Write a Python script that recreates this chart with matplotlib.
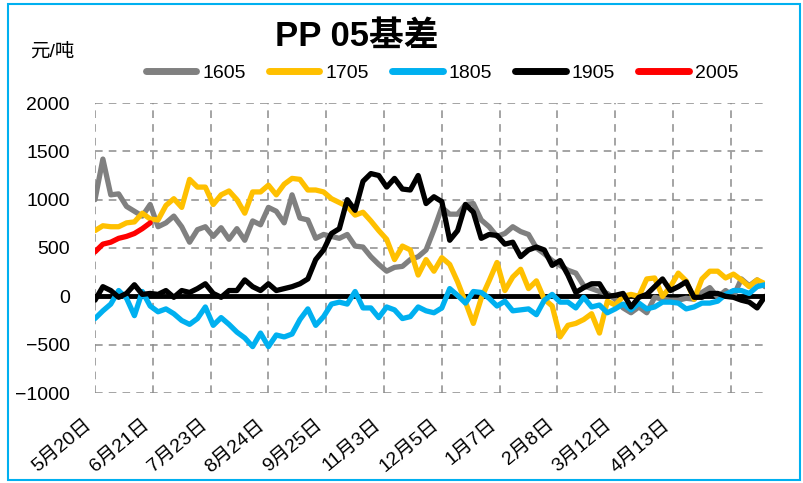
import matplotlib.pyplot as plt
import numpy as np
from matplotlib.patches import Rectangle

plt.rcParams['font.family'] = ['Liberation Sans', 'Noto Sans CJK SC']
plt.rcParams['axes.unicode_minus'] = True

# basis values, one reading every 3 trading days
s1605 = [1000, 1420, 1050, 1060, 930, 880, 830, 950, 720, 760,
         830, 720, 560, 690, 720, 620, 710, 590, 700, 580,
         780, 740, 920, 880, 760, 1050, 810, 790, 600, 640,
         620, 600, 640, 520, 510, 410, 330, 260, 300, 310,
         380, 410, 480, 690, 920, 850, 850, 950, 960, 790,
         720, 620, 650, 720, 670, 640, 500, 440, 370, 320,
         270, 240, 110, 80, 50, 30, -30, -120, -170, -110,
         -170, -10, -30, -40, -40, -20, -30, 40, 90, -10,
         60, 0, 180, 110, 170, 100]
s1705 = [680, 730, 720, 720, 760, 770, 860, 800, 790, 940,
         1010, 920, 1210, 1130, 1130, 950, 1050, 1090, 1000, 860,
         1080, 1080, 1150, 1050, 1160, 1220, 1210, 1100, 1100, 1080,
         1010, 970, 930, 840, 870, 780, 680, 590, 380, 520,
         480, 220, 380, 260, 400, 330, 150, -60, -280, -20,
         160, 350, 60, 200, 280, 80, 160, -30, -100, -420,
         -300, -280, -240, -180, -380, -50, -90, 0, 20, 0,
         180, 190, 0, 100, 240, 160, -30, 180, 260, 260,
         190, 230, 170, 100, 170, 130]
s1805 = [-230, -150, -80, 60, -20, -200, 50, -100, -160, -130,
         -180, -250, -290, -230, -110, -300, -220, -290, -370, -430,
         -520, -380, -520, -400, -420, -390, -240, -130, -300, -210,
         -80, -60, -80, 50, -120, -120, -220, -110, -140, -230,
         -210, -110, -150, -170, -120, 80, 10, -70, 50, 40,
         -20, -100, -50, -150, -140, -130, -190, -40, 20, -60,
         -60, -120, -10, -110, -90, -170, -130, -80, -140, -70,
         -130, -110, -60, -60, -70, -130, -110, -70, -70, -50,
         20, 60, 60, 30, 100, 120]
s1905 = [-40, 100, 60, -10, 30, 120, 20, 30, 20, 60,
         -10, 60, 40, 80, 130, 30, -10, 60, 60, 170,
         100, 60, 130, 60, 80, 100, 130, 180, 380, 480,
         650, 700, 1000, 890, 1190, 1270, 1250, 1130, 1220, 1110,
         1100, 1250, 960, 1030, 980, 580, 680, 950, 870, 600,
         640, 630, 540, 560, 410, 480, 510, 480, 320, 370,
         220, 40, 90, 130, 130, 0, 10, 30, -110, -10,
         20, 100, 180, 60, 100, 150, -10, -10, 30, 30,
         0, -10, -40, -60, -120, 0]
s2005 = [460, 540, 560, 600, 620, 650, 700, 760]

names = ['1605', '1705', '1805', '1905', '2005']
colors = ['#808080', '#FFC000', '#00B0F0', '#000000', '#FF0000']
tick_labels = ['5月20日', '6月21日', '7月23日', '8月24日', '9月25日', '11月3日',
               '12月5日', '1月7日', '2月8日', '3月12日', '4月13日', '']
step = 3
tick_gap = 22

fig = plt.figure(figsize=(8.04, 4.83), dpi=100)
ax = fig.add_axes([95 / 804, 90 / 483, 670 / 804, 290 / 483])

ax.axhline(0, color='black', lw=3.5, zorder=1)
for vals, name, c in zip([s1605, s1705, s1805, s1905, s2005], names, colors):
    x = np.arange(len(vals)) * step
    ax.plot(x, vals, color=c, lw=3.8, label=name, solid_capstyle='round',
            solid_joinstyle='round', zorder=2)

ax.set_xlim(0, 255)
ax.set_ylim(-1000, 2000)
ax.set_yticks(np.arange(-1000, 2001, 500))
ticks = np.arange(len(tick_labels)) * tick_gap
ax.set_xticks(ticks)
ax.set_xticklabels(tick_labels, rotation=40, ha='right', va='top',
                   rotation_mode='default', fontsize=14)
ax.tick_params(axis='y', labelsize=14, length=0, pad=18)
ax.tick_params(axis='x', length=0, pad=17)
ax.grid(True, color='#8c8c8c', linestyle=(0, (5, 4)), lw=1.1)
ax.set_axisbelow(True)
for s in ax.spines.values():
    s.set_visible(False)

fig.text(357 / 804, 1 - 36 / 483, 'PP 05基差', ha='center', va='center',
         fontsize=25, fontweight='bold')
fig.text(30 / 804, 1 - 52 / 483, '元/吨', ha='left', va='center', fontsize=14)

fig.legend(loc='center', bbox_to_anchor=(442 / 804, 1 - 73 / 483), ncol=5,
           frameon=False, fontsize=14, handlelength=2.6, handletextpad=0.3,
           columnspacing=1.2)
for h in fig.legends[0].get_lines():
    h.set_linewidth(5)

fig.patches.append(Rectangle((8 / 804, 3 / 483), 792 / 804, 476 / 483,
                             transform=fig.transFigure, fill=False,
                             edgecolor='#00B0F0', lw=1.5))

fig.savefig('out.png', dpi=100)
